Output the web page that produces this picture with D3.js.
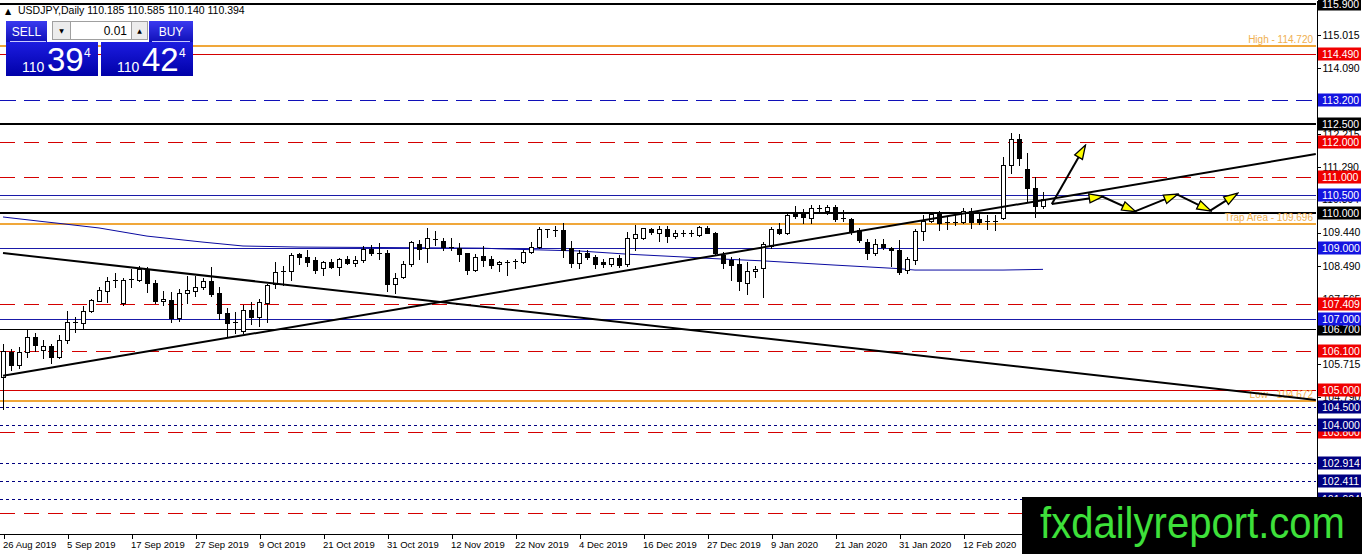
<!DOCTYPE html>
<head>
    <meta charset="utf-8">
    <script src="https://d3js.org/d3.v7.min.js"></script>
    <style>
        body { margin: 0; background: #fff; overflow: hidden; }
        svg { display: block; font-family: "Liberation Sans", Arial, sans-serif; }
    </style>
</head>
<body>
<div id="chart"></div>
<script>
    // daily bars, index 0 = 26 Aug 2019 ... 130 = 26 Feb 2020
    var opens = [105.35,106.07,105.70,106.07,106.49,106.12,106.22,105.92,106.39,106.92,
        106.88,107.22,107.51,107.80,108.07,107.44,108.10,108.10,108.40,108.02,
        107.51,107.53,107.02,107.73,107.80,107.90,108.07,107.74,107.16,106.90,
        106.67,107.25,107.05,107.46,108.00,108.33,108.36,108.83,108.74,108.66,
        108.43,108.62,108.48,108.68,108.59,108.66,108.97,108.87,108.87,108.00,
        108.19,108.55,109.13,109.00,109.27,109.21,109.04,109.00,108.85,108.38,
        108.78,108.68,108.55,108.62,108.62,108.62,108.90,109.02,109.53,109.52,
        109.51,109.00,108.57,108.85,108.74,108.62,108.55,108.71,108.55,109.30,
        109.28,109.53,109.42,109.53,109.34,109.43,109.42,109.37,109.58,109.42,
        108.80,108.66,108.55,108.02,108.34,108.43,109.06,109.53,109.44,110.00,
        109.98,109.84,110.13,110.06,110.15,109.85,109.82,109.50,109.18,108.85,
        109.12,109.00,108.95,108.38,108.66,109.49,109.78,109.97,109.72,109.73,
        109.75,110.06,109.82,109.76,109.76,109.85,111.35,112.08,111.23,110.69,
        110.185]
    var highs = [106.30,106.15,106.20,106.68,106.60,106.40,106.30,106.55,107.22,107.05,
        107.35,107.55,107.90,108.19,108.30,108.15,108.40,108.50,108.48,108.10,
        107.80,107.77,107.85,108.20,108.20,108.15,108.48,107.90,107.30,107.20,
        107.40,107.47,107.55,108.00,108.60,108.50,108.85,108.85,108.95,108.75,
        108.65,108.68,108.72,108.78,108.78,109.05,109.08,109.15,108.95,108.30,
        108.65,109.20,109.23,109.56,109.48,109.30,109.30,109.15,108.85,108.82,
        109.05,108.77,108.65,108.66,108.70,108.95,109.18,109.60,109.53,109.63,
        109.70,109.21,108.95,108.95,108.80,108.68,108.73,108.80,109.46,109.65,
        109.58,109.58,109.63,109.63,109.52,109.50,109.50,109.63,109.63,109.47,
        108.90,108.75,108.71,108.60,108.50,109.18,109.60,109.70,110.03,110.20,
        110.10,110.22,110.22,110.22,110.22,110.08,109.86,109.58,109.25,109.25,
        109.25,109.03,109.22,108.75,109.53,109.95,110.00,110.05,109.88,109.93,
        110.14,110.13,109.98,109.95,109.95,111.59,112.25,112.22,111.68,111.02,
        110.585]
    var lows = [104.46,105.55,105.60,105.93,106.10,105.90,105.75,105.88,106.32,106.63,
        106.75,107.20,107.50,107.48,107.90,107.40,107.90,108.07,107.77,107.45,
        107.40,106.90,106.95,107.45,107.65,107.85,107.65,107.00,106.50,106.60,
        106.60,106.85,106.80,106.90,107.86,107.95,108.10,108.55,108.50,108.30,
        108.25,108.45,108.25,108.55,108.50,108.60,108.80,108.70,107.80,107.73,
        108.15,108.50,108.70,108.60,109.10,108.95,108.95,108.65,108.26,108.35,
        108.50,108.45,108.35,108.24,108.45,108.58,108.85,109.00,109.32,109.35,
        108.75,108.48,108.43,108.70,108.43,108.48,108.50,108.48,108.50,108.95,
        109.25,109.40,109.20,109.18,109.30,109.35,109.33,109.33,109.42,108.80,
        108.45,108.10,107.82,107.70,108.18,107.63,109.00,109.40,109.40,109.85,
        109.70,109.70,110.00,109.96,109.76,109.76,109.40,109.18,108.70,108.80,
        108.98,108.50,108.27,108.30,108.55,109.23,109.75,109.50,109.55,109.66,
        109.72,109.57,109.68,109.55,109.52,109.83,111.12,111.35,110.31,109.89,
        110.140]
    var closes = [106.10,105.70,106.07,106.49,106.26,106.22,105.92,106.39,106.92,106.90,
        107.22,107.53,107.82,108.07,108.10,108.10,108.12,108.40,108.02,107.51,
        107.55,107.02,107.73,107.82,107.90,108.07,107.70,107.16,106.88,106.92,
        107.25,107.05,107.49,107.96,108.33,108.36,108.80,108.74,108.62,108.37,
        108.62,108.48,108.68,108.59,108.66,108.97,108.87,108.85,108.00,108.15,
        108.55,109.18,108.97,109.28,109.25,109.04,109.02,108.83,108.38,108.76,
        108.66,108.52,108.62,108.62,108.63,108.90,109.02,109.53,109.52,109.50,
        108.95,108.57,108.85,108.74,108.55,108.55,108.71,108.52,109.30,109.40,
        109.56,109.45,109.53,109.33,109.43,109.42,109.40,109.60,109.42,108.85,
        108.57,108.52,108.08,108.36,108.40,109.12,109.53,109.44,109.94,109.91,
        109.87,110.13,110.14,110.15,109.82,109.82,109.47,109.23,108.85,109.12,
        109.02,108.95,108.33,108.68,109.49,109.78,109.97,109.72,109.73,109.74,
        110.06,109.75,109.75,109.77,109.77,111.35,112.08,111.54,110.69,110.19,
        110.394]

    // 200 day moving average, read at a few bars
    var maBars = [0, 5, 7, 12, 18, 25, 30, 37, 60, 62, 72, 78, 85, 90, 95, 104, 112, 114, 125, 130]
    var maValues = [109.88, 109.75, 109.70, 109.57, 109.34, 109.17, 109.06, 109.03, 109.00, 108.98,
        108.92, 108.83, 108.75, 108.69, 108.64, 108.52, 108.42, 108.38, 108.38, 108.40]

    var dateTickBars = [0, 8, 16, 24, 32, 40, 48, 56, 64, 72, 80, 88, 96, 104, 112, 120]
    var dateTickLabels = ['26 Aug 2019', '5 Sep 2019', '17 Sep 2019', '27 Sep 2019', '9 Oct 2019',
        '21 Oct 2019', '31 Oct 2019', '12 Nov 2019', '22 Nov 2019', '4 Dec 2019', '16 Dec 2019',
        '27 Dec 2019', '9 Jan 2020', '21 Jan 2020', '31 Jan 2020', '12 Feb 2020']
    var priceTicks = [115.015, 114.090, 113.165, 112.215, 111.290, 109.440, 108.490,
        107.565, 106.640, 105.715, 104.790]

    // horizontal levels drawn on the chart
    var blackLevels = [115.900, 112.500, 110.000]
    var thinBlackLevels = [106.700]
    var redSolidLevels = [114.490, 105.000]
    var redDashLevels = [112.000, 111.000, 107.409, 106.100, 103.800, 101.500]
    var blueSolidLevels = [110.500, 109.000, 107.000]
    var blueDashLevels = [113.200]
    var navyDotLevels = [104.500, 104.000, 102.914, 102.411, 101.904]
    var orangeLevels = [114.720, 109.696, 104.672]
    var orangeNames = ['High', 'Trap Area', 'Low']

    // trend lines [bar, price] ends
    var trendLines = [
        [[0, 108.86], [164.1, 104.71]],
        [[0, 105.39], [164.1, 111.66]]
    ]
    var bigArrow = [[131.1, 110.25], [135.25, 111.89]]
    var zigzag = [[131.1, 110.25], [137.4, 110.46], [141.5, 110.04], [146.75, 110.52], [150.9, 110.06], [154.25, 110.54]]

    var bid = 110.394

    var W = 1362, H = 554
    var plotRight = 1316, plotBottom = 534
    var markRight = 1022, markTop = 497

    var x = d3.scaleLinear().domain([0, 164]).range([3, 3 + 164 * 8])
    var y = d3.scaleLinear().domain([100.919, 116.014]).range([plotBottom, 0])
    var fmt = d3.format('.3f')

    var svg = d3.select('#chart').append('svg')
        .attr('width', W).attr('height', H)

    var defs = svg.append('defs')
    defs.append('clipPath').attr('id', 'plotClip')
        .append('rect').attr('x', 0).attr('y', 0).attr('width', plotRight).attr('height', plotBottom)
    defs.append('marker')
        .attr('id', 'head')
        .attr('markerUnits', 'userSpaceOnUse')
        .attr('markerWidth', 16).attr('markerHeight', 12)
        .attr('refX', 14).attr('refY', 6)
        .attr('orient', 'auto')
        .append('path')
        .attr('d', 'M1,1.5 L15,6 L1,10.5 Z')
        .attr('fill', '#ffff00')
        .attr('stroke', '#000')
        .attr('stroke-width', 1.3)

    var plot = svg.append('g').attr('clip-path', 'url(#plotClip)')

    function hline(levels, color, width, dash) {
        plot.append('g').selectAll('line').data(levels).enter().append('line')
            .attr('x1', 0).attr('x2', plotRight)
            .attr('y1', d => Math.round(y(d)) + (width % 2 ? 0.5 : 0))
            .attr('y2', d => Math.round(y(d)) + (width % 2 ? 0.5 : 0))
            .attr('stroke', color)
            .attr('stroke-width', width)
            .attr('stroke-dasharray', dash || null)
            .attr('shape-rendering', 'crispEdges')
    }

    hline(navyDotLevels, '#000080', 1, '3,3')
    hline(redDashLevels, '#d40000', 1, '15,9')
    hline(blueDashLevels, '#1010b8', 1, '16,8')
    hline(redSolidLevels, '#d40000', 1)
    hline(blueSolidLevels, '#1a1aa8', 1)
    hline([bid], '#c0c0c0', 1)
    hline(thinBlackLevels, '#000', 1)
    hline(blackLevels, '#000', 2)
    hline(orangeLevels, '#f0a73a', 2)

    // orange level captions
    plot.append('g').selectAll('text').data(orangeLevels).enter().append('text')
        .attr('x', plotRight - 3)
        .attr('y', d => y(d) - 3)
        .attr('text-anchor', 'end')
        .attr('font-size', 10)
        .attr('fill', '#f0b050')
        .text((d, i) => orangeNames[i] + ' - ' + fmt(d))

    // moving average
    plot.append('path')
        .datum(maBars.map((b, i) => [b, maValues[i]]))
        .attr('fill', 'none')
        .attr('stroke', '#0a0aa0')
        .attr('stroke-width', 1)
        .attr('d', d3.line().x(d => x(d[0])).y(d => y(d[1])))

    // candles
    var candle = plot.append('g').selectAll('g').data(d3.range(opens.length)).enter().append('g')
        .attr('shape-rendering', 'crispEdges')
    candle.append('line')
        .attr('x1', i => x(i) + 0.5).attr('x2', i => x(i) + 0.5)
        .attr('y1', i => Math.round(y(highs[i]))).attr('y2', i => Math.round(y(lows[i])) + 1)
        .attr('stroke', '#000')
    candle.each(function(i) {
        var g = d3.select(this)
        var top = Math.round(y(Math.max(opens[i], closes[i])))
        var bot = Math.round(y(Math.min(opens[i], closes[i])))
        if (bot - top < 2) {
            g.append('line')
                .attr('x1', x(i) - 2).attr('x2', x(i) + 3)
                .attr('y1', top + 0.5).attr('y2', top + 0.5)
                .attr('stroke', '#000')
            return
        }
        g.append('rect')
            .attr('x', x(i) - 1.5).attr('y', top + 0.5)
            .attr('width', 4).attr('height', bot - top)
            .attr('fill', closes[i] >= opens[i] ? '#fff' : '#000')
            .attr('stroke', '#000')
    })

    // trend lines
    plot.append('g').selectAll('line').data(trendLines).enter().append('line')
        .attr('x1', d => x(d[0][0])).attr('y1', d => y(d[0][1]))
        .attr('x2', d => x(d[1][0])).attr('y2', d => y(d[1][1]))
        .attr('stroke', '#000')
        .attr('stroke-width', 2)

    // projection arrows
    var arrowSegs = [bigArrow]
    for (var k = 1; k < zigzag.length; k++) arrowSegs.push([zigzag[k - 1], zigzag[k]])
    plot.append('g').selectAll('line').data(arrowSegs).enter().append('line')
        .attr('x1', d => x(d[0][0])).attr('y1', d => y(d[0][1]))
        .attr('x2', d => x(d[1][0])).attr('y2', d => y(d[1][1]))
        .attr('stroke', '#000')
        .attr('stroke-width', 2)
        .attr('marker-end', 'url(#head)')

    // price axis
    var yAxis = svg.append('g')
        .attr('transform', 'translate(' + (plotRight + 0.5) + ',0)')
        .call(d3.axisRight(y).tickValues(priceTicks).tickFormat(fmt).tickSize(4).tickSizeOuter(0).tickPadding(2))
    yAxis.select('.domain').attr('stroke', '#000').attr('shape-rendering', 'crispEdges')
    yAxis.selectAll('line').attr('shape-rendering', 'crispEdges')
    yAxis.selectAll('text').attr('font-size', 10.5).attr('font-family', '"Liberation Sans", Arial, sans-serif').attr('fill', '#000')

    var axisLabels = svg.append('g')
    function tagLabels(levels, bg) {
        // a tag that falls fully under the watermark is not drawn
        var shown = levels.filter(d => y(d) - 6.5 < markTop)
        var t = axisLabels.append('g').selectAll('g').data(shown).enter().append('g')
            .attr('transform', d => 'translate(' + (plotRight + 2) + ',' + Math.round(y(d)) + ')')
        t.append('rect')
            .attr('x', 0).attr('y', -6.5)
            .attr('width', 43).attr('height', 13)
            .attr('fill', bg)
        t.append('text')
            .attr('x', 4).attr('y', 4)
            .attr('font-size', 10.5)
            .attr('fill', '#fff')
            .text(d => fmt(d))
    }
    axisLabels.append('text')
        .attr('x', plotRight + 6).attr('y', Math.round(y(bid)) + 4)
        .attr('font-size', 10.5).attr('fill', '#000')
        .text(fmt(bid))
    tagLabels(redDashLevels.concat(redSolidLevels), '#f00000')
    tagLabels(blackLevels.concat(thinBlackLevels), '#000')
    tagLabels(blueSolidLevels.concat(blueDashLevels), '#1414e0')
    tagLabels(navyDotLevels, '#000080')

    // time axis
    var xAxis = svg.append('g')
        .attr('transform', 'translate(0,' + (plotBottom + 0.5) + ')')
        .call(d3.axisBottom(x).tickValues(dateTickBars).tickFormat((d, i) => dateTickLabels[i]).tickSize(4).tickSizeOuter(0).tickPadding(3))
    xAxis.select('.domain').attr('d', 'M0,0H' + plotRight).attr('stroke', '#000').attr('shape-rendering', 'crispEdges')
    xAxis.selectAll('.tick line').attr('transform', 'translate(0.5,0)').attr('shape-rendering', 'crispEdges')
    xAxis.selectAll('text')
        .attr('text-anchor', 'start')
        .attr('dx', -0.5)
        .attr('font-size', 9.5)
        .attr('font-family', '"Liberation Sans", Arial, sans-serif')
        .attr('fill', '#000')

    // header
    svg.append('text').attr('x', 5).attr('y', 14).attr('font-size', 8)
        .attr('font-family', '"DejaVu Sans", sans-serif').text('\u25B2')
    svg.append('text').attr('x', 18).attr('y', 14).attr('font-size', 10.5)
        .attr('fill', '#000')
        .text('USDJPY,Daily  ' + [opens, highs, lows, closes].map(a => fmt(a[a.length - 1])).join(' '))

    // one-click trading panel
    var grad = defs.append('linearGradient').attr('id', 'btn').attr('x1', 0).attr('x2', 0).attr('y1', 0).attr('y2', 1)
    grad.append('stop').attr('offset', '0%').attr('stop-color', '#3a3af0')
    grad.append('stop').attr('offset', '100%').attr('stop-color', '#1010b8')
    var grad2 = defs.append('linearGradient').attr('id', 'big').attr('x1', 0).attr('x2', 0).attr('y1', 0).attr('y2', 1)
    grad2.append('stop').attr('offset', '0%').attr('stop-color', '#1c1ce0')
    grad2.append('stop').attr('offset', '100%').attr('stop-color', '#0000a8')

    var panel = svg.append('g')
    panel.append('rect').attr('x', 6).attr('y', 21).attr('width', 41).attr('height', 21).attr('fill', 'url(#btn)')
    panel.append('rect').attr('x', 149).attr('y', 21).attr('width', 44).attr('height', 21).attr('fill', 'url(#btn)')
    panel.append('line').attr('x1', 10).attr('x2', 46).attr('y1', 41.5).attr('y2', 41.5).attr('stroke', '#c8c8ff')
    panel.append('line').attr('x1', 152).attr('x2', 190).attr('y1', 41.5).attr('y2', 41.5).attr('stroke', '#c8c8ff')
    panel.append('text').attr('x', 26.5).attr('y', 36).attr('text-anchor', 'middle').attr('font-size', 12).attr('fill', '#fff').text('SELL')
    panel.append('text').attr('x', 171).attr('y', 36).attr('text-anchor', 'middle').attr('font-size', 12).attr('fill', '#fff').text('BUY')
    panel.append('rect').attr('x', 52.5).attr('y', 21.5).attr('width', 18).attr('height', 18).attr('fill', '#ececec').attr('stroke', '#a0a0a0')
    panel.append('rect').attr('x', 70.5).attr('y', 21.5).attr('width', 61).attr('height', 18).attr('fill', '#fff').attr('stroke', '#a0a0a0')
    panel.append('rect').attr('x', 131.5).attr('y', 21.5).attr('width', 16).attr('height', 18).attr('fill', '#ececec').attr('stroke', '#a0a0a0')
    panel.append('text').attr('x', 61.5).attr('y', 33).attr('text-anchor', 'middle').attr('font-size', 6)
        .attr('font-family', '"DejaVu Sans", sans-serif').text('\u25BC')
    panel.append('text').attr('x', 139.5).attr('y', 33).attr('text-anchor', 'middle').attr('font-size', 6)
        .attr('font-family', '"DejaVu Sans", sans-serif').text('\u25B2')
    panel.append('text').attr('x', 127).attr('y', 35).attr('text-anchor', 'end').attr('font-size', 12).text('0.01')

    var quotes = [{ x: 6, big: '39', small: '4' }, { x: 101, big: '42', small: '4' }]
    var q = panel.selectAll('g.q').data(quotes).enter().append('g')
        .attr('transform', d => 'translate(' + d.x + ',42)')
    q.append('rect').attr('width', 92).attr('height', 34).attr('fill', 'url(#big)')
    q.append('text').attr('x', 16).attr('y', 30).attr('font-size', 14).attr('fill', '#fff').text('110')
    q.append('text').attr('x', 41).attr('y', 29).attr('font-size', 33).attr('fill', '#fff').text(d => d.big)
    q.append('text').attr('x', 78).attr('y', 15).attr('font-size', 12).attr('fill', '#fff').text(d => d.small)

    // watermark
    svg.append('rect').attr('x', markRight).attr('y', markTop).attr('width', W - markRight).attr('height', H - markTop).attr('fill', '#000')
    svg.append('text').attr('x', 1040).attr('y', 538)
        .attr('font-size', 44)
        .attr('textLength', 305).attr('lengthAdjust', 'spacingAndGlyphs')
        .attr('fill', '#3ee03a')
        .text('fxdailyreport.com')
</script>
</body>
</html>
